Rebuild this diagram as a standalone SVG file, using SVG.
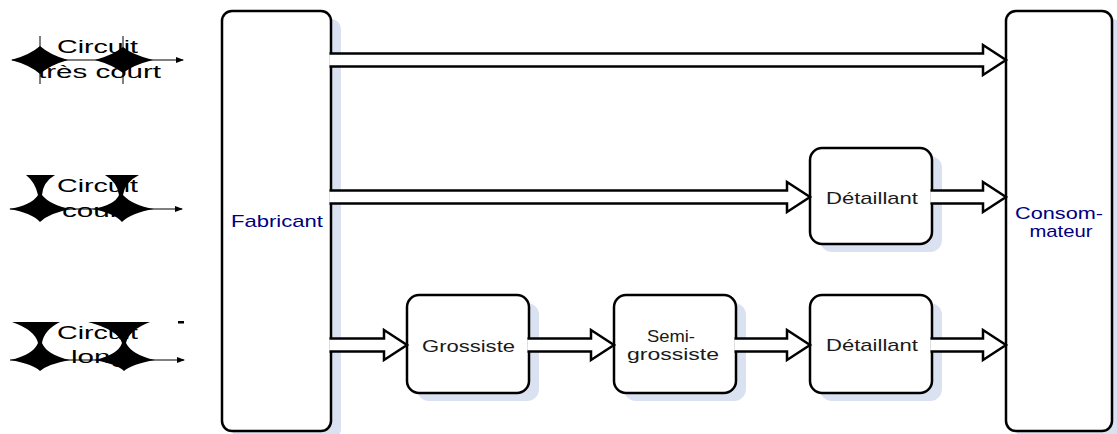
<svg xmlns="http://www.w3.org/2000/svg" width="1117" height="434" viewBox="0 0 1117 434">
  <style>
    .box { fill: #ffffff; stroke: #000000; stroke-width: 2.5; }
    .shadow { fill: #dae2f1; stroke: none; }
    .lbl { font-family: "Liberation Sans", Arial, sans-serif; font-size: 17px; fill: #1a1a1a; text-anchor: middle; }
    .side { fill: #00007f; }
    .circ { font-family: "Liberation Sans", Arial, sans-serif; font-size: 18px; fill: #000000; text-anchor: middle; }
    .flow { fill: #ffffff; stroke: #000000; stroke-width: 2.5; stroke-linejoin: miter; }
    .blot { fill: #000000; stroke: none; }
    .thin { fill: none; stroke: #000000; stroke-width: 1; }
  </style>
  <defs>
    <marker id="tip" markerWidth="8" markerHeight="6" refX="7" refY="3" orient="auto" markerUnits="userSpaceOnUse">
      <path d="M0,0 L8,3 L0,6 Z" fill="#000000"/>
    </marker>
  </defs>
  <rect width="1117" height="434" fill="#ffffff"/>

  <!-- circuit labels with their broken decorations -->
  <g id="circuit-tres-court">
    <text class="circ" x="97.5" y="53" textLength="81" lengthAdjust="spacingAndGlyphs">Circuit</text>
    <text class="circ" x="99.5" y="78" textLength="123" lengthAdjust="spacingAndGlyphs">très court</text>
    <line class="thin" x1="12" y1="60" x2="183" y2="60" marker-end="url(#tip)"/>
    <line class="thin" x1="40" y1="36" x2="40" y2="84"/>
    <line class="thin" x1="123" y1="36" x2="123" y2="84"/>
    <path class="blot" d="M11,60 Q30,55 40,46 Q50,55 68,60 Q50,65 40,74 Q30,65 11,60 Z"/>
    <path class="blot" d="M95,60 Q113,55 123,47 Q133,55 153,60 Q133,65 123,73 Q113,65 95,60 Z"/>
  </g>

  <g id="circuit-court">
    <text class="circ" x="97.5" y="192" textLength="81" lengthAdjust="spacingAndGlyphs">Circuit</text>
    <text class="circ" x="95" y="217" textLength="66" lengthAdjust="spacingAndGlyphs">court</text>
    <line class="thin" x1="10" y1="209" x2="182" y2="209" marker-end="url(#tip)"/>
    <path class="blot" d="M26,175 H55 Q43,182 42,195 Q50,205 71,209 Q49,213 40,222 Q32,213 9,209 Q32,205 38,195 Q35,182 26,175 Z"/>
    <path class="blot" d="M105,175 H139 Q125,182 123,195 Q132,205 154,209 Q131,213 122,222 Q114,213 92,209 Q115,205 119,195 Q117,182 105,175 Z"/>
  </g>

  <g id="circuit-long">
    <text class="circ" x="97.5" y="339" textLength="81" lengthAdjust="spacingAndGlyphs">Circuit</text>
    <text class="circ" x="99" y="363" textLength="56" lengthAdjust="spacingAndGlyphs">long</text>
    <line class="thin" x1="10" y1="360" x2="184" y2="360" marker-end="url(#tip)"/>
    <path class="blot" d="M12,322 H60 Q44,330 42,343 Q47,355 70,360 Q48,364 40,371 Q33,364 10,360 Q33,355 38,343 Q35,330 12,322 Z"/>
    <path class="blot" d="M88,322 H150 Q129,330 126,343 Q132,355 155,360 Q132,364 124,371 Q117,364 94,360 Q118,355 122,343 Q118,330 88,322 Z"/>
    <rect class="blot" x="178" y="321" width="6" height="2.5"/>
  </g>

  <!-- nodes -->
  <g id="fabricant">
    <rect class="shadow" x="232" y="19" width="109" height="420" rx="10"/>
    <rect class="box" x="222" y="11" width="109" height="420" rx="10"/>
    <text class="lbl side" x="277" y="227" textLength="92" lengthAdjust="spacingAndGlyphs">Fabricant</text>
  </g>

  <g id="consommateur">
    <rect class="shadow" x="1016" y="19" width="106" height="420" rx="10"/>
    <rect class="box" x="1006" y="11" width="106" height="420" rx="10"/>
    <text class="lbl side" x="1059" y="219" textLength="88" lengthAdjust="spacingAndGlyphs">Consom-</text>
    <text class="lbl side" x="1061" y="237" textLength="63" lengthAdjust="spacingAndGlyphs">mateur</text>
  </g>

  <g id="detaillant-court">
    <rect class="shadow" x="820" y="156" width="122" height="96" rx="12"/>
    <rect class="box" x="810" y="148" width="122" height="96" rx="12"/>
    <text class="lbl" x="872" y="204" textLength="92" lengthAdjust="spacingAndGlyphs">Détaillant</text>
  </g>

  <g id="grossiste">
    <rect class="shadow" x="417" y="303" width="122" height="98" rx="12"/>
    <rect class="box" x="407" y="295" width="122" height="98" rx="12"/>
    <text class="lbl" x="468.5" y="352" textLength="93" lengthAdjust="spacingAndGlyphs">Grossiste</text>
  </g>

  <g id="semi-grossiste">
    <rect class="shadow" x="624" y="303" width="122" height="98" rx="12"/>
    <rect class="box" x="614" y="295" width="122" height="98" rx="12"/>
    <text class="lbl" x="671" y="342" textLength="48" lengthAdjust="spacingAndGlyphs">Semi-</text>
    <text class="lbl" x="673" y="360" textLength="92" lengthAdjust="spacingAndGlyphs">grossiste</text>
  </g>

  <g id="detaillant-long">
    <rect class="shadow" x="820" y="303" width="122" height="98" rx="12"/>
    <rect class="box" x="810" y="295" width="122" height="98" rx="12"/>
    <text class="lbl" x="872" y="351" textLength="92" lengthAdjust="spacingAndGlyphs">Détaillant</text>
  </g>

  <!-- connectors: hollow block arrows -->
  <g id="connectors">
    <path class="flow" d="M329.5,53.5 H983 V45 L1006,60 L983,75 V66.5 H329.5"/>
    <path class="flow" d="M329.5,190.5 H787 V182 L810,197 L787,212 V203.5 H329.5"/>
    <path class="flow" d="M930.5,190.5 H983 V182 L1006,197 L983,212 V203.5 H930.5"/>
    <path class="flow" d="M329.5,338.5 H384 V330 L407,345 L384,360 V351.5 H329.5"/>
    <path class="flow" d="M527.5,338.5 H591 V330 L614,345 L591,360 V351.5 H527.5"/>
    <path class="flow" d="M734.5,338.5 H787 V330 L810,345 L787,360 V351.5 H734.5"/>
    <path class="flow" d="M930.5,338.5 H983 V330 L1006,345 L983,360 V351.5 H930.5"/>
  </g>
</svg>
